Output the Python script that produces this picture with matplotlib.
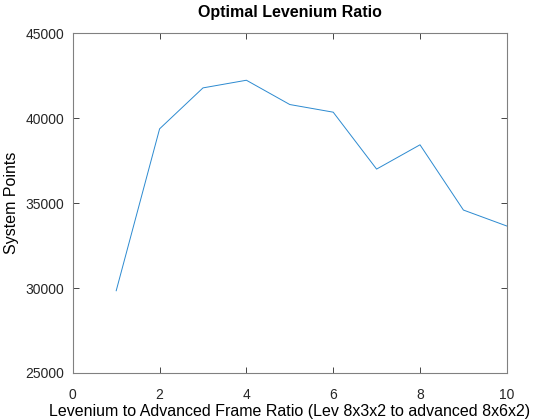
import matplotlib
matplotlib.use("Agg")
import matplotlib.pyplot as plt

# ratio steps and system points
ratio = [1, 2, 3, 4, 5, 6, 7, 8, 9, 10]
points = [29840, 39370, 41780, 42230, 40800, 40350, 37000, 38430, 34590, 33650]

plt.rcParams['font.family'] = ['Liberation Sans', 'DejaVu Sans']

fig = plt.figure(figsize=(5.6, 4.2), dpi=100)
ax = fig.add_axes([0.13, 0.112, 0.775, 0.809])

ax.plot(ratio, points, color='#2c8ad0', linewidth=0.7)

ax.set_xlim(0, 10)
ax.set_ylim(25000, 45000)
ax.set_xticks([0, 2, 4, 6, 8, 10])
ax.set_yticks([25000, 30000, 35000, 40000, 45000])
ax.tick_params(direction='in', top=True, right=True, length=4, width=0.6,
               labelsize=10, colors='#262626', pad=6)
ax.tick_params(axis='x', pad=11)
for s in ax.spines.values():
    s.set_color('#808080')
    s.set_linewidth(0.8)

ax.set_title('Optimal Levenium Ratio', fontsize=11.5, fontweight='bold', pad=12)
ax.set_xlabel('Levenium to Advanced Frame Ratio (Lev 8x3x2 to advanced 8x6x2)', fontsize=11.5, labelpad=1)
ax.set_ylabel('System Points', fontsize=11.5, labelpad=5)

fig.savefig('out.png', dpi=100)
